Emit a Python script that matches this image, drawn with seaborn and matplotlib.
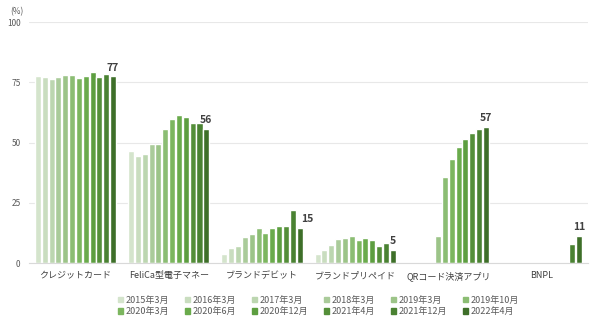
import matplotlib
matplotlib.use("Agg")
import matplotlib.pyplot as plt
import seaborn as sns
import numpy as np
import pandas as pd

categories = ["クレジットカード", "FeliCa型電子マネー", "ブランドデビット",
              "ブランドプリペイド", "QRコード決済アプリ", "BNPL"]
periods = ["2015年3月", "2016年3月", "2017年3月", "2018年3月", "2019年3月", "2019年10月",
           "2020年3月", "2020年6月", "2020年12月", "2021年4月", "2021年12月", "2022年4月"]

nan = np.nan
credit = [77.7, 77.1, 76.4, 77.1, 78.1, 78.1, 76.7, 77.7, 79.1, 77.1, 78.5, 77.5]
felica = [46.3, 44.5, 45.3, 49.4, 49.4, 55.8, 59.9, 61.6, 60.6, 58.1, 58.1, 55.6]
debit = [3.7, 6.1, 7.0, 10.7, 12.1, 14.6, 12.4, 14.6, 15.2, 15.3, 21.9, 14.6]
prepaid = [3.6, 5.5, 7.6, 10.1, 10.3, 11.4, 9.6, 10.3, 9.5, 7.2, 8.3, 5.4]
qr = [nan, nan, nan, nan, 11.4, 35.7, 43.0, 48.1, 51.5, 54.0, 55.6, 56.6]
bnpl = [nan, nan, nan, nan, nan, nan, nan, nan, nan, nan, 7.9, 11.4]
last_labels = ["77", "56", "15", "5", "57", "11"]

colors = ["#d4e4cc", "#c9ddbf", "#bcd6b0", "#aacb9a", "#9cc488", "#8bbd73",
          "#7cb65f", "#6aab4c", "#5d9e40", "#548f39", "#4a8232", "#3e6f29"]

rows = []
for cat, vals in zip(categories, [credit, felica, debit, prepaid, qr, bnpl]):
    for p, v in zip(periods, vals):
        rows.append({"cat": cat, "period": p, "value": v})
df = pd.DataFrame(rows)

sns.set_style("white")
plt.rcParams['font.family'] = ['Noto Sans CJK JP', 'DejaVu Sans']

fig = plt.figure(figsize=(5.9, 3.3), dpi=100)
ax = fig.add_axes([0.049, 0.203, 0.948, 0.730])

sns.barplot(data=df, x="cat", y="value", hue="period", order=categories,
            hue_order=periods, palette=colors, saturation=1, width=0.88, gap=0.12,
            errorbar=None, ax=ax, legend=True)

ax.set_ylim(0, 100)
ax.set_xlim(-0.5, len(categories) - 0.5)
ax.set_yticks([0, 25, 50, 75, 100])
ax.yaxis.grid(True, color="#e8e8e8", linewidth=0.8)
ax.set_axisbelow(True)
for s in ["top", "right", "left"]:
    ax.spines[s].set_visible(False)
ax.spines["bottom"].set_color("#d9d9d9")
ax.set_xlabel("")
ax.set_ylabel("")
ax.tick_params(axis="y", length=0, labelsize=6, labelcolor="#595959", pad=6)
ax.tick_params(axis="x", length=0, labelsize=6.5, labelcolor="#404040", pad=6)
ax.set_xticks(np.arange(-0.5, len(categories), 1.0), minor=True)
ax.tick_params(axis="x", which="minor", length=4, color="#d9d9d9")

# value labels on the last period's bars
last_bars = ax.containers[len(periods) - 1]
for bar, lab in zip(last_bars, last_labels):
    x = bar.get_x() + bar.get_width() / 2
    h = bar.get_height()
    if lab == "15":
        ax.text(x + 0.02, h + 1.5, lab, ha="left", va="bottom", fontsize=7.5,
                fontweight="bold", color="#404040")
    else:
        ax.text(x, h + 1.5, lab, ha="center", va="bottom", fontsize=7.5,
                fontweight="bold", color="#404040")

fig.text(0.018, 0.965, "(%)", fontsize=6, color="#595959", va="center")

ax.legend_.remove()
handles = [plt.Rectangle((0, 0), 1, 1, color=c) for c in colors]
ncol = 6
order = [r * ncol + c for c in range(ncol) for r in range(2)]
fig.legend([handles[i] for i in order], [periods[i] for i in order],
           loc="center", bbox_to_anchor=(0.54, 0.073), ncol=ncol,
           frameon=False, fontsize=6.5, labelcolor="#595959",
           handlelength=0.5, handleheight=0.5, handletextpad=0.3,
           columnspacing=1.8, labelspacing=0.3)

fig.savefig("out.png", dpi=100)
